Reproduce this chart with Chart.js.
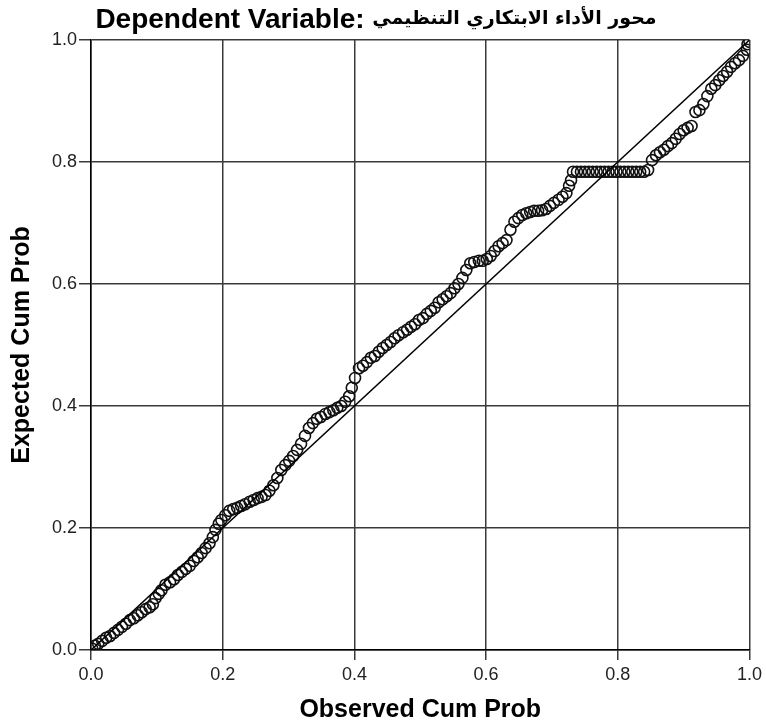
<!DOCTYPE html>
<html>
<head>
<meta charset="utf-8">
<script src="https://cdn.jsdelivr.net/npm/chart.js@4"></script>
<style>
  html, body { margin: 0; padding: 0; background: #fff; }
  #wrap { width: 766px; height: 727px; }
</style>
</head>
<body>
<div id="wrap"><canvas id="ppChart" width="766" height="727"></canvas></div>
<script>
// titles
const titleLatin = 'Dependent Variable: ';
const titleArabic = 'محور الأداء الابتكاري التنظيمي';
const xTitle = 'Observed Cum Prob';
const yTitle = 'Expected Cum Prob';
const tickValues = [0, 0.2, 0.4, 0.6, 0.8, 1.0];

// observed cumulative probability (x) for each case
const observed = [
  0.002, 0.006, 0.011, 0.017, 0.023, 0.029, 0.035, 0.041, 0.047, 0.053,
  0.059, 0.065, 0.071, 0.077, 0.083, 0.089, 0.094, 0.098, 0.103, 0.107,
  0.113, 0.120, 0.126, 0.132, 0.138, 0.144, 0.150, 0.156, 0.162, 0.168,
  0.174, 0.180, 0.185, 0.189, 0.194, 0.198, 0.204, 0.210, 0.216, 0.222,
  0.228, 0.234, 0.241, 0.247, 0.253, 0.259, 0.265, 0.271, 0.277, 0.283,
  0.289, 0.295, 0.301, 0.307, 0.313, 0.319, 0.325, 0.331, 0.337, 0.343,
  0.349, 0.356, 0.362, 0.368, 0.374, 0.380, 0.386, 0.392, 0.396, 0.401,
  0.407, 0.413, 0.419, 0.425, 0.431, 0.437, 0.443, 0.449, 0.455, 0.461,
  0.467, 0.474, 0.480, 0.486, 0.492, 0.498, 0.504, 0.510, 0.516, 0.522,
  0.528, 0.534, 0.540, 0.546, 0.552, 0.558, 0.564, 0.570, 0.576, 0.582,
  0.589, 0.595, 0.601, 0.607, 0.613, 0.619, 0.625, 0.631, 0.637, 0.643,
  0.649, 0.655, 0.661, 0.667, 0.673, 0.679, 0.685, 0.691, 0.697, 0.703,
  0.710, 0.716, 0.722, 0.726, 0.729, 0.732, 0.738, 0.744, 0.750, 0.756,
  0.762, 0.768, 0.774, 0.780, 0.786, 0.792, 0.798, 0.804, 0.810, 0.816,
  0.822, 0.828, 0.834, 0.840, 0.846, 0.852, 0.858, 0.864, 0.870, 0.876,
  0.882, 0.888, 0.894, 0.900, 0.906, 0.912, 0.918, 0.924, 0.930, 0.936,
  0.942, 0.948, 0.954, 0.960, 0.966, 0.972, 0.978, 0.984, 0.990, 0.996,
  0.997, 1.000
];

// expected cumulative probability (y) for each case
const expected = [
  0.002, 0.007, 0.010, 0.015, 0.020, 0.023, 0.028, 0.033, 0.038, 0.043,
  0.049, 0.052, 0.057, 0.062, 0.067, 0.070, 0.075, 0.085, 0.092, 0.098,
  0.107, 0.111, 0.116, 0.123, 0.128, 0.133, 0.138, 0.146, 0.152, 0.159,
  0.167, 0.175, 0.185, 0.197, 0.207, 0.213, 0.221, 0.228, 0.231, 0.233,
  0.236, 0.239, 0.243, 0.246, 0.249, 0.251, 0.254, 0.261, 0.270, 0.282,
  0.295, 0.303, 0.310, 0.318, 0.328, 0.338, 0.351, 0.364, 0.372, 0.379,
  0.382, 0.387, 0.390, 0.393, 0.397, 0.400, 0.407, 0.416, 0.430, 0.446,
  0.462, 0.466, 0.472, 0.479, 0.482, 0.489, 0.495, 0.500, 0.505, 0.511,
  0.516, 0.521, 0.525, 0.530, 0.534, 0.541, 0.544, 0.551, 0.556, 0.561,
  0.570, 0.575, 0.580, 0.585, 0.593, 0.600, 0.610, 0.623, 0.634, 0.636,
  0.638, 0.638, 0.641, 0.646, 0.654, 0.662, 0.667, 0.672, 0.689, 0.702,
  0.708, 0.713, 0.716, 0.718, 0.720, 0.720, 0.721, 0.723, 0.728, 0.733,
  0.738, 0.743, 0.749, 0.761, 0.770, 0.784, 0.784, 0.784, 0.784, 0.784,
  0.784, 0.784, 0.784, 0.784, 0.784, 0.784, 0.784, 0.784, 0.784, 0.784,
  0.784, 0.784, 0.784, 0.784, 0.787, 0.803, 0.811, 0.816, 0.820, 0.826,
  0.831, 0.838, 0.846, 0.852, 0.856, 0.859, 0.882, 0.885, 0.895, 0.908,
  0.920, 0.926, 0.934, 0.941, 0.948, 0.956, 0.962, 0.967, 0.974, 0.984,
  0.993, 0.997
];

// reference diagonal
const diagX = [0, 1];
const diagY = [0, 1];

const points = observed.map((x, i) => ({ x: x, y: expected[i] }));
const diagonal = diagX.map((x, i) => ({ x: x, y: diagY[i] }));

const gridColor = '#3a3a3a';
const tickFont = { family: 'Liberation Sans, Arial, sans-serif', size: 18 };
const titleFont = { family: 'Liberation Sans, Arial, sans-serif', size: 25, weight: 'bold' };

// title has a latin part and an arabic part, drawn side by side
const titlePlugin = {
    id: 'splitTitle',
    afterDraw(chart) {
        const c = chart.ctx;
        c.save();
        c.fillStyle = '#000';
        c.textBaseline = 'middle';
        c.direction = 'ltr';
        const latinFont = 'bold 28px "Liberation Sans", Arial, sans-serif';
        const arabicFont = 'bold 19px "DejaVu Sans", sans-serif';
        c.font = latinFont;
        const w1 = c.measureText(titleLatin).width;
        c.font = arabicFont;
        const w2 = c.measureText(titleArabic).width;
        let x = 376 - (w1 + w2) / 2;
        c.textAlign = 'left';
        c.font = latinFont;
        c.fillText(titleLatin, x, 20);
        c.font = arabicFont;
        c.fillText(titleArabic, x + w1, 19);
        c.restore();
    }
};

const ctx = document.getElementById('ppChart').getContext('2d');

const ppChart = new Chart(ctx, {
    type: 'scatter',
    data: {
        datasets: [
            {
                type: 'line',
                data: diagonal,
                borderColor: '#000',
                borderWidth: 1.5,
                pointRadius: 0,
                fill: false,
            },
            {
                data: points,
                pointStyle: 'circle',
                pointRadius: 5.5,
                pointBorderWidth: 1.6,
                pointBorderColor: '#111',
                pointBackgroundColor: 'rgba(0,0,0,0)',
            }
        ]
    },
    options: {
        responsive: false,
        animation: false,
        layout: { padding: { top: 40, right: 14, left: 0, bottom: 0 } },
        plugins: {
            legend: { display: false },
            tooltip: { enabled: false },
            title: { display: false }
        },
        scales: {
            x: {
                type: 'linear',
                min: 0,
                max: 1,
                afterFit: (scale) => { scale.height = 77; },
                afterBuildTicks: (scale) => { scale.ticks = tickValues.map(v => ({ value: v })); },
                ticks: {
                    color: '#222',
                    font: tickFont,
                    padding: 4,
                    maxRotation: 0,
                    callback: (v) => Number(v).toFixed(1)
                },
                grid: { color: gridColor, tickColor: gridColor, tickLength: 10, lineWidth: 1.5 },
                border: { color: '#000', width: 1.5 },
                title: { display: true, text: xTitle, color: '#000', font: titleFont, padding: { top: 0, bottom: 2 } }
            },
            y: {
                type: 'linear',
                min: 0,
                max: 1,
                afterFit: (scale) => { scale.width = 91; },
                afterBuildTicks: (scale) => { scale.ticks = tickValues.map(v => ({ value: v })); },
                ticks: {
                    color: '#222',
                    font: tickFont,
                    padding: 2,
                    callback: (v) => Number(v).toFixed(1)
                },
                grid: { color: gridColor, tickColor: gridColor, tickLength: 12, lineWidth: 1.5 },
                border: { color: '#000', width: 1.5 },
                title: { display: true, text: yTitle, color: '#000', font: titleFont, padding: { top: 7, bottom: 0 } }
            }
        }
    },
    plugins: [titlePlugin]
});
</script>
</body>
</html>
